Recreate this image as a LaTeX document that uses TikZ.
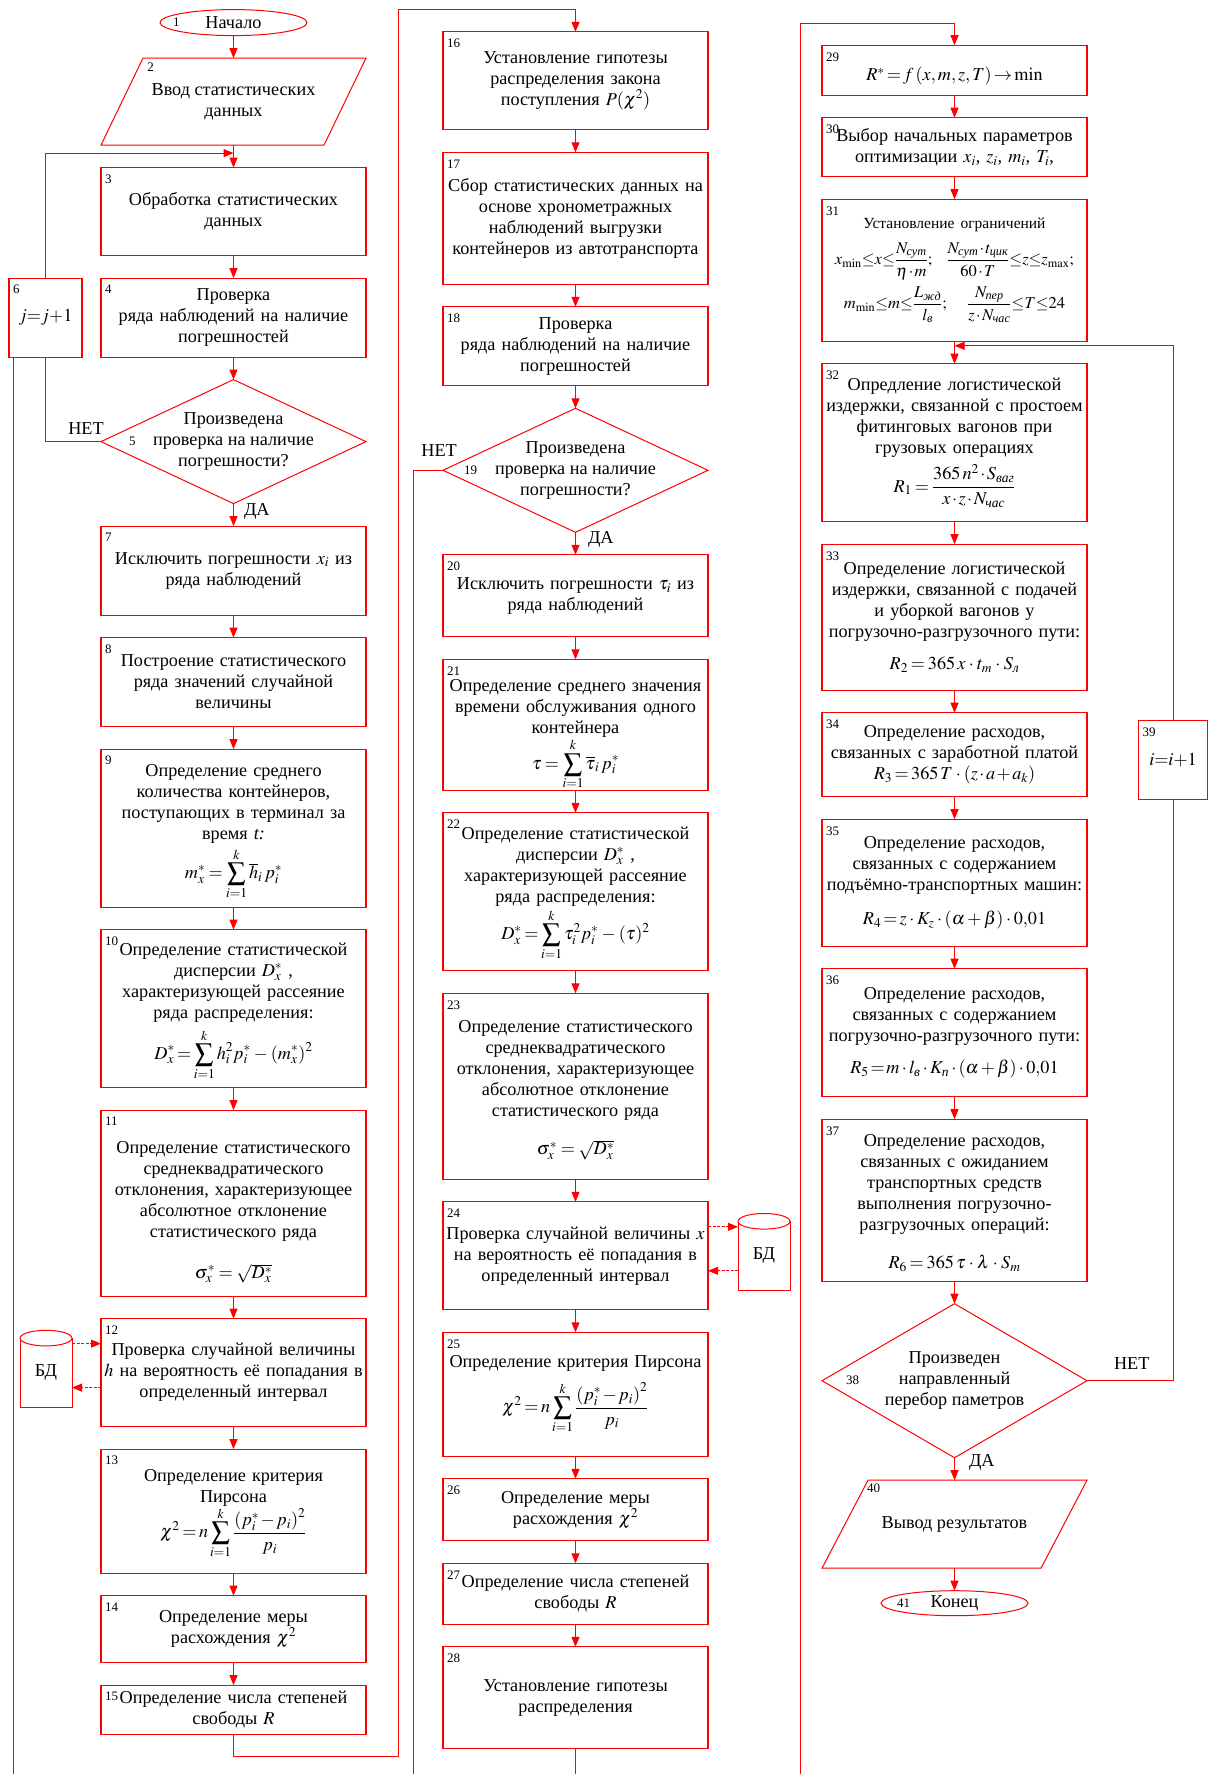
\documentclass[tikz,border=0pt]{standalone}
\usepackage{mathptmx}
\usepackage{amsmath}
\usepackage[no-math]{fontspec}
\setmainfont{Liberation Serif}
\usetikzlibrary{arrows.meta,positioning,shapes.geometric}

\newcommand{\bodyfont}{\fontsize{18.2}{21}\selectfont\thickmuskip=1mu plus 1mu\medmuskip=1.5mu plus 1mu}
\newcommand{\numfont}{\fontsize{13}{13}\selectfont}
\newcommand{\rsub}[1]{\text{\itshape #1}}

\begin{document}
\begin{tikzpicture}[x=1pt, y=-1pt, node distance=22.5pt,
  conn/.style={draw=red, line width=1pt},
  arr/.style={conn, -{Triangle[length=10pt,width=8pt]}},
  darr/.style={arr, dash pattern=on 3pt off 1.5pt},
  pbox/.style={draw=red, line width=1.2pt, outer sep=0pt, minimum width=265pt,
               text width=263pt, align=center, inner sep=0pt, font=\bodyfont},
  dec/.style={diamond, draw=red, line width=1pt, outer sep=0pt, minimum width=265pt, inner sep=0pt},
  io/.style={minimum width=265pt, outer sep=0pt, inner sep=0pt, align=center, font=\bodyfont},
  term/.style={ellipse, draw=red, line width=1pt, outer sep=0pt, inner sep=0pt, font=\bodyfont},
  dbase/.style={minimum width=52pt, minimum height=69pt, outer sep=0pt, inner sep=0pt, font=\bodyfont},
  num/.style={font=\numfont, inner sep=1pt},
  numlbl/.style={label={[num, anchor=north west, xshift=3pt, yshift=-6pt]north west:#1}},
  dtext/.style={font=\bodyfont, align=center, inner sep=0pt},
  lbl/.style={font=\bodyfont, inner sep=2pt}]
  \fill[white] (0,0) rectangle (1208,1774);
  \useasboundingbox (0,0) rectangle (1208,1774);
  \coordinate (bot) at (0,1774);

  % first column
  \node[term, minimum width=147pt, minimum height=26pt,
        label={[num, anchor=west, xshift=12pt]west:1}] (e1) at (233.5,22.6) {Начало};
  \node[io, minimum height=87pt,
        label={[num, anchor=north west, xshift=-83pt, yshift=34pt]center:2},
        below=of e1] (p2) {Ввод статистических\\данных};
  \draw[conn] (p2.south west) -- ([xshift=42pt]p2.north west) -- (p2.north east)
    -- ([xshift=-42pt]p2.south east) -- cycle;
  \node[pbox, minimum height=88pt, numlbl=3, below=of p2] (b3) {Обработка статистических\\данных};
  \node[pbox, minimum height=79pt, numlbl=4, below=of b3] (b4) {Проверка\\ряда наблюдений на наличие\\погрешностей};
  \node[dec, minimum height=124pt, below=of b4,
        label={[num, anchor=west, xshift=27pt]west:5},
        label={[dtext]center:{Произведена\\проверка на наличие\\погрешности?}}] (d5) {};
  \node[pbox, minimum width=73pt, text width=62pt, minimum height=79pt, numlbl=6,
        left=19pt of b4] (b6) {$j{=}j{+}1$};
  \node[pbox, minimum height=89pt, numlbl=7, below=of d5] (b7) {Исключить погрешности $x_i$ из\\ряда наблюдений};
  \node[pbox, minimum height=89pt, numlbl=8, below=of b7] (b8) {Построение статистического\\ряда значений случайной\\величины};
  \node[pbox, minimum height=158pt, numlbl=9, below=of b8] (b9) {\rule{0pt}{20pt}Определение среднего\\количества контейнеров,\\поступающих в терминал за\\время \textit{t:}\\[4pt]
    $\displaystyle m_x^*=\sum_{i=1}^{k}\overline{h}_i\,p_i^*$};
  \node[pbox, minimum height=158pt, numlbl=10, below=of b9] (b10) {\rule{0pt}{18pt}Определение статистической\\дисперсии $D_x^*$ ,\\характеризующей рассеяние\\ряда распределения:\\[6pt]
    $\displaystyle D_x^*=\sum_{i=1}^{k}h_i^2p_i^*-(m_x^*)^2$};
  \node[pbox, minimum height=186pt, numlbl=11, below=of b10] (b11) {\rule{0pt}{30pt}Определение статистического\\среднеквадратического\\отклонения, характеризующее\\абсолютное отклонение\\статистического ряда\\[20pt]
    $\sigma_x^*=\sqrt{D_x^*}$};
  \node[pbox, minimum height=108pt, numlbl=12, below=of b11] (b12) {Проверка случайной величины\\$h$ на вероятность её попадания в\\определенный интервал};
  \node[pbox, minimum height=124pt, numlbl=13, below=of b12] (b13) {\rule{0pt}{18pt}Определение критерия\\Пирсона\\
    $\displaystyle \chi^2=n\sum_{i=1}^{k}\frac{\left(p_i^*-p_i\right)^2}{p_i}$};
  \node[pbox, minimum height=67pt, numlbl=14, below=of b13] (b14) {Определение меры\\расхождения $\chi^2$};
  \node[pbox, minimum height=49pt, numlbl=15, below=of b14] (b15) {Определение числа степеней\\свободы $R$};
  \node[dbase, left=29pt of b12] (bdl) {\raisebox{-4.5pt}{БД}};
  \draw[conn] (bdl.north west) -- (bdl.south west) -- (bdl.south east) -- (bdl.north east);
  \draw[conn, fill=white] (bdl.north) ellipse [x radius=26pt, y radius=7.8pt];

  % second column
  \node[pbox, minimum height=98pt, numlbl=16, anchor=north] (b16) at (575.5,31.8) {Установление гипотезы\\распределения закона\\поступления $P(\chi^2)$};
  \node[pbox, minimum height=132pt, numlbl=17, below=of b16] (b17) {Сбор статистических данных на\\основе хронометражных\\наблюдений выгрузки\\контейнеров из автотранспорта};
  \node[pbox, minimum height=79pt, numlbl=18, below=of b17] (b18) {Проверка\\ряда наблюдений на наличие\\погрешностей};
  \node[dec, minimum height=124pt, below=of b18,
        label={[num, anchor=west, xshift=20pt]west:19},
        label={[dtext]center:{Произведена\\проверка на наличие\\погрешности?}}] (d19) {};
  \node[pbox, minimum height=82pt, numlbl=20, below=of d19] (b20) {Исключить погрешности $\tau_i$ из\\ряда наблюдений};
  \node[pbox, minimum height=131pt, numlbl=21, below=of b20] (b21) {\rule{0pt}{32pt}Определение среднего значения\\времени обслуживания одного\\контейнера\\
    $\displaystyle \tau=\sum_{i=1}^{k}\overline{\tau}_i\,p_i^*$};
  \node[pbox, minimum height=158pt, numlbl=22, below=of b21] (b22) {\rule{0pt}{16pt}Определение статистической\\дисперсии $D_x^*$ ,\\характеризующей рассеяние\\ряда распределения:\\[2pt]
    $\displaystyle D_x^*=\sum_{i=1}^{k}\tau_i^2p_i^*-(\tau)^2$};
  \node[pbox, minimum height=186pt, numlbl=23, below=of b22] (b23) {\rule{0pt}{20pt}Определение статистического\\среднеквадратического\\отклонения, характеризующее\\абсолютное отклонение\\статистического ряда\\[17pt]
    $\sigma_x^*=\sqrt{D_x^*}$};
  \node[pbox, minimum height=108pt, numlbl=24, below=of b23] (b24) {Проверка случайной величины $x$\\на вероятность её попадания в\\определенный интервал};
  \node[pbox, minimum height=124pt, numlbl=25, below=of b24] (b25) {Определение критерия Пирсона\\[10pt]
    $\displaystyle \chi^2=n\sum_{i=1}^{k}\frac{\left(p_i^*-p_i\right)^2}{p_i}$};
  \node[pbox, minimum height=62pt, numlbl=26, below=of b25] (b26) {Определение меры\\расхождения $\chi^2$};
  \node[pbox, minimum height=61pt, numlbl=27, below=of b26] (b27) {Определение числа степеней\\свободы $R$};
  \node[pbox, minimum height=102pt, numlbl=28, below=of b27] (b28) {Установление гипотезы\\распределения};
  \node[dbase, right=30pt of b24] (bdr) {\raisebox{-4.5pt}{БД}};
  \draw[conn] (bdr.north west) -- (bdr.south west) -- (bdr.south east) -- (bdr.north east);
  \draw[conn, fill=white] (bdr.north) ellipse [x radius=26pt, y radius=7.8pt];

  % third column
  \node[pbox, minimum height=50pt, numlbl=29, anchor=north] (b29) at (954.5,45.2) {\rule{0pt}{26pt}$R^*=f\left(x,m,z,T\right)\to\min$};
  \node[pbox, minimum height=59pt, numlbl=30, below=of b29] (b30) {Выбор начальных параметров\\оптимизации $x_i$, $z_i$, $m_i$, $T_i$,};
  \node[pbox, minimum height=142pt, numlbl=31, below=of b30] (b31) {{\fontsize{15.5}{18}\selectfont Установление ограничений}\\[10pt]
    \makebox[\linewidth]{\fontsize{16.5}{19}\selectfont$\displaystyle x_{\min}{\le}x{\le}\frac{N_{\rsub{сут}}}{\eta\cdot m};\ \ \frac{N_{\rsub{сут}}\cdot t_{\rsub{цик}}}{60\cdot T}{\le}z{\le}z_{\max};$}\\[6pt]
    \makebox[\linewidth]{\fontsize{16.5}{19}\selectfont$\displaystyle m_{\min}{\le}m{\le}\frac{L_{\rsub{жд}}}{l_{\rsub{в}}};\ \ \ \frac{N_{\rsub{пер}}}{z\cdot N_{\rsub{час}}}{\le}T{\le}24$}};
  \node[pbox, minimum height=158pt, numlbl=32, below=of b31] (b32) {Опредление логистической\\издержки, связанной с простоем\\фитинговых вагонов при\\грузовых операциях\\[6pt]
    $\displaystyle R_1=\frac{365\,n^2\cdot S_{\rsub{ваг}}}{x\cdot z\cdot N_{\rsub{час}}}$};
  \node[pbox, minimum height=146pt, numlbl=33, below=of b32] (b33) {Определение логистической\\издержки, связанной с подачей\\и уборкой вагонов у\\погрузочно-разгрузочного пути:\\[11pt]
    $R_2=365\,x\cdot t_m\cdot S_{\rsub{л}}$};
  \node[pbox, minimum height=84pt, numlbl=34, below=of b33] (b34) {Определение расходов,\\связанных с заработной платой\\
    $R_3=365\,T\cdot\left(z\cdot a+a_k\right)$};
  \node[pbox, minimum height=127pt, numlbl=35, below=of b34] (b35) {Определение расходов,\\связанных с содержанием\\подъёмно-транспортных машин:\\[13pt]
    $R_4=z\cdot K_z\cdot(\alpha+\beta)\cdot 0{,}01$};
  \node[pbox, minimum height=128pt, numlbl=36, below=of b35] (b36) {Определение расходов,\\связанных с содержанием\\погрузочно-разгрузочного пути:\\[11pt]
    $R_5=m\cdot l_{\rsub{в}}\cdot K_{\rsub{п}}\cdot(\alpha+\beta)\cdot 0{,}01$};
  \node[pbox, minimum height=162pt, numlbl=37, below=of b36] (b37) {\rule{0pt}{18pt}Определение расходов,\\связанных с ожиданием\\транспортных средств\\выполнения погрузочно-\\разгрузочных операций:\\[17pt]
    $R_6=365\,\tau\cdot\lambda\cdot S_m$};
  \node[dec, minimum height=154pt, below=of b37,
        label={[num, anchor=west, xshift=23pt]west:38},
        label={[dtext]center:{Произведен\\направленный\\перебор паметров}}] (d38) {};
  \node[pbox, minimum width=69pt, text width=60pt, minimum height=79pt, numlbl=39] (b39) at (1173,760) {$i{=}i{+}1$};
  \node[io, minimum height=88pt,
        label={[num, anchor=north west, xshift=-81pt, yshift=36pt]center:40},
        below=of d38] (p40) {Вывод результатов};
  \draw[conn] (p40.south west) -- ([xshift=46pt]p40.north west) -- (p40.north east)
    -- ([xshift=-46pt]p40.south east) -- cycle;
  \node[term, minimum width=147pt, minimum height=25pt,
        label={[num, anchor=west, xshift=15pt]west:41}, below=of p40] (e41) {Конец};

  % connectors, first column
  \coordinate (j3) at ([yshift=-8pt]p2.south);
  \draw[arr] (e1) -- (p2);
  \draw[arr] (p2.south) -- (b3.north);
  \draw[arr] (b3) -- (b4);
  \draw[arr] (b4) -- (d5);
  \draw[arr] (d5) -- node[lbl, right=8pt, pos=0.36]{ДА} (b7);
  \draw[conn] (d5.west) -- node[lbl, above=5pt, pos=0.27]{НЕТ} (d5.west -| b6.south) -- (b6.south);
  \draw[arr] (b6.north) |- (j3);
  \coordinate (l6) at ([xshift=4pt]b6.south west);
  \draw[conn] (l6) -- (l6 |- bot);
  \draw[arr] (b7) -- (b8);
  \draw[arr] (b8) -- (b9);
  \draw[arr] (b9) -- (b10);
  \draw[arr] (b10) -- (b11);
  \draw[arr] (b11) -- (b12);
  \draw[arr] (b12) -- (b13);
  \draw[arr] (b13) -- (b14);
  \draw[arr] (b14) -- (b15);
  \draw[darr] ([yshift=29pt]bdl.east) -- ([yshift=29pt]b12.west);
  \draw[darr] ([yshift=-15pt]b12.west) -- ([yshift=-15pt]bdl.east);
  \coordinate (top1) at (398,9.6);
  \draw[arr] (b15.south) -- ++(0,22) -| (top1) -| (b16.north);

  % connectors, second column
  \draw[arr] (b16) -- (b17);
  \draw[arr] (b17) -- (b18);
  \draw[arr] (b18) -- (d19);
  \draw[arr] (d19) -- node[lbl, right=10pt, pos=0.33]{ДА} (b20);
  \draw[conn] (d19.west) -- node[lbl, above=11pt, pos=0.13]{НЕТ} ++(-30,0) coordinate (n19) -- (n19 |- bot);
  \draw[arr] (b20) -- (b21);
  \draw[arr] (b21) -- (b22);
  \draw[arr] (b22) -- (b23);
  \draw[arr] (b23) -- (b24);
  \draw[arr] (b24) -- (b25);
  \draw[arr] (b25) -- (b26);
  \draw[arr] (b26) -- (b27);
  \draw[arr] (b27) -- (b28);
  \draw[darr] ([yshift=29pt]b24.east) -- ([yshift=29pt]bdr.west);
  \draw[darr] ([yshift=-15pt]bdr.west) -- ([yshift=-15pt]b24.east);
  \draw[conn] (b28.south) -- (b28.south |- bot);

  % connectors, third column
  \coordinate (bot3) at (800,1774);
  \draw[arr] (bot3) |- ([yshift=22pt]b29.north) -- (b29.north);
  \draw[arr] (b29) -- (b30);
  \draw[arr] (b30) -- (b31);
  \draw[arr] (b31) -- (b32);
  \coordinate (j32) at ([yshift=-4.6pt]b31.south);
  \draw[arr] (b39.north) |- (j32);
  \draw[arr] (b32) -- (b33);
  \draw[arr] (b33) -- (b34);
  \draw[arr] (b34) -- (b35);
  \draw[arr] (b35) -- (b36);
  \draw[arr] (b36) -- (b37);
  \draw[arr] (b37) -- (d38);
  \draw[arr] (d38) -- node[lbl, right=12pt, pos=0.22]{ДА} (p40);
  \draw[conn] (d38.east) -| node[lbl, above=9pt, pos=0.26]{НЕТ} (b39.south);
  \draw[arr] (p40) -- (e41);
\end{tikzpicture}
\end{document}
